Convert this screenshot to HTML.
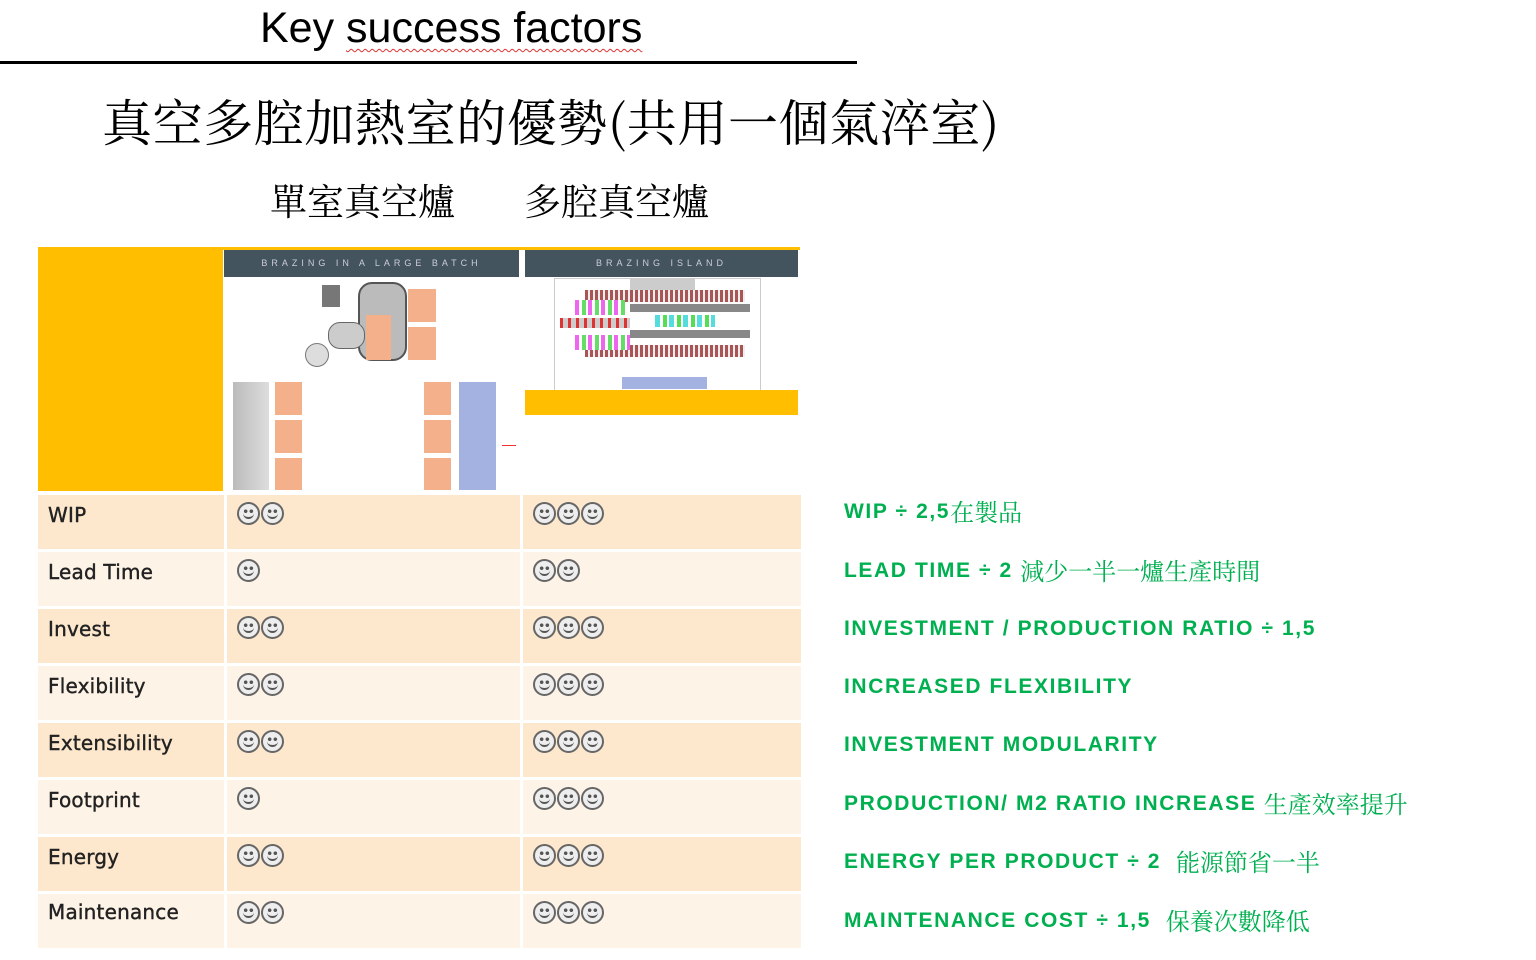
<!DOCTYPE html>
<html><head><meta charset="utf-8"><style>
body{margin:0;width:1536px;height:960px;background:#fff;position:relative;overflow:hidden;font-family:"Liberation Sans","Noto Sans CJK TC",sans-serif}
.a{position:absolute}
.row{position:absolute;left:38px;width:763px;height:54px}
.c{position:absolute;top:0;height:54px}
.lab{font-family:"DejaVu Sans",sans-serif;font-size:20px;color:#222;padding:8px 0 0 10px;box-sizing:border-box;letter-spacing:0.2px;-webkit-text-stroke:0.4px #222}
.sm{padding:7px 0 0 10px;box-sizing:border-box;white-space:nowrap;font-size:0}
.s{display:inline-block;width:19px;height:19px;border:2px solid #666;border-radius:50%;margin-right:1px;position:relative;background:
radial-gradient(circle at 35% 38%,#555 0 1.6px,transparent 2px),radial-gradient(circle at 65% 38%,#555 0 1.6px,transparent 2px),#eee}
.s:after{content:"";position:absolute;left:4px;top:7px;width:11px;height:6px;border-bottom:2px solid #555;border-radius:0 0 6px 6px}
.g{position:absolute;left:844px;color:#00b050;font-weight:bold;font-size:21px;white-space:nowrap;letter-spacing:1.6px;line-height:28px}
.g span{font-family:"Noto Serif CJK SC",serif;font-weight:normal;font-size:24px;letter-spacing:0;vertical-align:top;line-height:26px}
.o{background:#f4b08a}
</style></head><body>
<div class="a" style="left:260px;top:4px;font-size:43px;color:#000;letter-spacing:0px">Key <span style="text-decoration:underline wavy #d33;text-decoration-thickness:1px;text-underline-offset:6px">success factors</span></div>
<div class="a" style="left:0;top:61px;width:857px;height:3px;background:#000"></div>
<div class="a" style="left:102px;top:84px;font-size:50px;font-family:'Noto Serif CJK SC',serif;color:#000;white-space:nowrap;letter-spacing:0.6px">真空多腔加熱室的優勢(共用一個氣淬室)</div>
<div class="a" style="left:270px;top:172px;font-size:37px;font-family:'Noto Serif CJK SC',serif;white-space:nowrap">單室真空爐</div>
<div class="a" style="left:524px;top:172px;font-size:37px;font-family:'Noto Serif CJK SC',serif;white-space:nowrap">多腔真空爐</div>

<div class="a" style="left:38px;top:247px;width:185px;height:244px;background:#ffbf00"></div>
<div class="a" style="left:223px;top:247px;width:577px;height:3px;background:#ffbf00"></div>
<div class="a" style="left:224px;top:250px;width:295px;height:27px;background:#44545f;color:#ccd;font-size:9px;letter-spacing:4px;text-align:center;line-height:26px">BRAZING IN A LARGE BATCH</div>
<div class="a" style="left:525px;top:250px;width:273px;height:27px;background:#44545f;color:#ccd;font-size:9px;letter-spacing:4px;text-align:center;line-height:26px">BRAZING ISLAND</div>
<div class="a" style="left:358px;top:282px;width:45px;height:75px;border-radius:14px;background:#bbb;border:2px solid #555"></div>
<div class="a" style="left:328px;top:322px;width:35px;height:25px;border-radius:12px;background:#ccc;border:1px solid #666"></div>
<div class="a" style="left:305px;top:343px;width:22px;height:22px;border-radius:50%;background:#ddd;border:1px solid #777"></div>
<div class="a" style="left:322px;top:285px;width:18px;height:22px;background:#777"></div>
<div class="a o" style="left:366px;top:315px;width:25px;height:45px"></div>
<div class="a o" style="left:408px;top:289px;width:28px;height:33px"></div>
<div class="a o" style="left:408px;top:327px;width:28px;height:33px"></div>
<div class="a" style="left:233px;top:382px;width:36px;height:108px;background:linear-gradient(90deg,#bbb,#ddd)"></div>
<div class="a o" style="left:275px;top:382px;width:27px;height:33px"></div>
<div class="a o" style="left:275px;top:420px;width:27px;height:33px"></div>
<div class="a o" style="left:275px;top:458px;width:27px;height:32px"></div>
<div class="a o" style="left:424px;top:382px;width:27px;height:33px"></div>
<div class="a o" style="left:424px;top:420px;width:27px;height:33px"></div>
<div class="a o" style="left:424px;top:458px;width:27px;height:32px"></div>
<div class="a" style="left:459px;top:382px;width:37px;height:108px;background:#a3b2e0"></div>
<div class="a" style="left:502px;top:445px;width:14px;height:1px;background:#e33"></div>
<div class="a" style="left:554px;top:278px;width:205px;height:112px;border:1px solid #ccc"></div>
<div class="a" style="left:585px;top:290px;width:160px;height:12px;background:repeating-linear-gradient(90deg,#a55 0 3px,#eee 3px 5px)"></div>
<div class="a" style="left:585px;top:345px;width:160px;height:12px;background:repeating-linear-gradient(90deg,#a55 0 3px,#eee 3px 5px)"></div>
<div class="a" style="left:630px;top:304px;width:120px;height:8px;background:#888"></div>
<div class="a" style="left:630px;top:330px;width:120px;height:8px;background:#888"></div>
<div class="a" style="left:575px;top:300px;width:50px;height:15px;background:repeating-linear-gradient(90deg,#e6e 0 4px,#fff 4px 7px,#6d6 7px 11px,#fff 11px 13px)"></div>
<div class="a" style="left:560px;top:318px;width:70px;height:10px;background:repeating-linear-gradient(90deg,#d33 0 3px,#ccc 3px 8px)"></div>
<div class="a" style="left:575px;top:335px;width:55px;height:15px;background:repeating-linear-gradient(90deg,#e6e 0 4px,#fff 4px 7px,#6d6 7px 11px,#fff 11px 13px)"></div>
<div class="a" style="left:655px;top:315px;width:60px;height:12px;background:repeating-linear-gradient(90deg,#5dd 0 5px,#fff 5px 8px,#5d5 8px 12px,#fff 12px 14px)"></div>
<div class="a" style="left:630px;top:278px;width:65px;height:12px;background:#ccc"></div>
<div class="a" style="left:622px;top:377px;width:85px;height:12px;background:#a3b2e0"></div>
<div class="a" style="left:525px;top:390px;width:273px;height:25px;background:#ffbf00"></div>

<div class="row" style="top:495px;background:#fde8cd"><div class="c lab" style="left:0;width:186px">WIP</div><div class="c sm" style="left:186px;width:296px;border-left:3px solid #fff"><i class="s"></i><i class="s"></i></div><div class="c sm" style="left:482px;width:281px;border-left:3px solid #fff"><i class="s"></i><i class="s"></i><i class="s"></i></div></div>
<div class="row" style="top:552px;background:#fef3e7"><div class="c lab" style="left:0;width:186px">Lead Time</div><div class="c sm" style="left:186px;width:296px;border-left:3px solid #fff"><i class="s"></i></div><div class="c sm" style="left:482px;width:281px;border-left:3px solid #fff"><i class="s"></i><i class="s"></i></div></div>
<div class="row" style="top:609px;background:#fde8cd"><div class="c lab" style="left:0;width:186px">Invest</div><div class="c sm" style="left:186px;width:296px;border-left:3px solid #fff"><i class="s"></i><i class="s"></i></div><div class="c sm" style="left:482px;width:281px;border-left:3px solid #fff"><i class="s"></i><i class="s"></i><i class="s"></i></div></div>
<div class="row" style="top:666px;background:#fef3e7"><div class="c lab" style="left:0;width:186px">Flexibility</div><div class="c sm" style="left:186px;width:296px;border-left:3px solid #fff"><i class="s"></i><i class="s"></i></div><div class="c sm" style="left:482px;width:281px;border-left:3px solid #fff"><i class="s"></i><i class="s"></i><i class="s"></i></div></div>
<div class="row" style="top:723px;background:#fde8cd"><div class="c lab" style="left:0;width:186px">Extensibility</div><div class="c sm" style="left:186px;width:296px;border-left:3px solid #fff"><i class="s"></i><i class="s"></i></div><div class="c sm" style="left:482px;width:281px;border-left:3px solid #fff"><i class="s"></i><i class="s"></i><i class="s"></i></div></div>
<div class="row" style="top:780px;background:#fef3e7"><div class="c lab" style="left:0;width:186px">Footprint</div><div class="c sm" style="left:186px;width:296px;border-left:3px solid #fff"><i class="s"></i></div><div class="c sm" style="left:482px;width:281px;border-left:3px solid #fff"><i class="s"></i><i class="s"></i><i class="s"></i></div></div>
<div class="row" style="top:837px;background:#fde8cd"><div class="c lab" style="left:0;width:186px">Energy</div><div class="c sm" style="left:186px;width:296px;border-left:3px solid #fff"><i class="s"></i><i class="s"></i></div><div class="c sm" style="left:482px;width:281px;border-left:3px solid #fff"><i class="s"></i><i class="s"></i><i class="s"></i></div></div>
<div class="row" style="top:894px;background:#fef3e7"><div class="c lab" style="left:0;width:186px;padding-top:6px">Maintenance</div><div class="c sm" style="left:186px;width:296px;border-left:3px solid #fff"><i class="s"></i><i class="s"></i></div><div class="c sm" style="left:482px;width:281px;border-left:3px solid #fff"><i class="s"></i><i class="s"></i><i class="s"></i></div></div>

<div class="g" style="top:498px">WIP ÷ 2,5<span>在製品</span></div>
<div class="g" style="top:557px">LEAD TIME ÷ 2 <span>減少一半一爐生產時間</span></div>
<div class="g" style="top:615px">INVESTMENT / PRODUCTION RATIO ÷ 1,5</div>
<div class="g" style="top:673px">INCREASED FLEXIBILITY</div>
<div class="g" style="top:731px">INVESTMENT MODULARITY</div>
<div class="g" style="top:790px">PRODUCTION/ M2 RATIO INCREASE <span>生產效率提升</span></div>
<div class="g" style="top:848px">ENERGY PER PRODUCT ÷ 2 &nbsp;<span>能源節省一半</span></div>
<div class="g" style="top:907px">MAINTENANCE COST ÷ 1,5 &nbsp;<span>保養次數降低</span></div>
</body></html>
